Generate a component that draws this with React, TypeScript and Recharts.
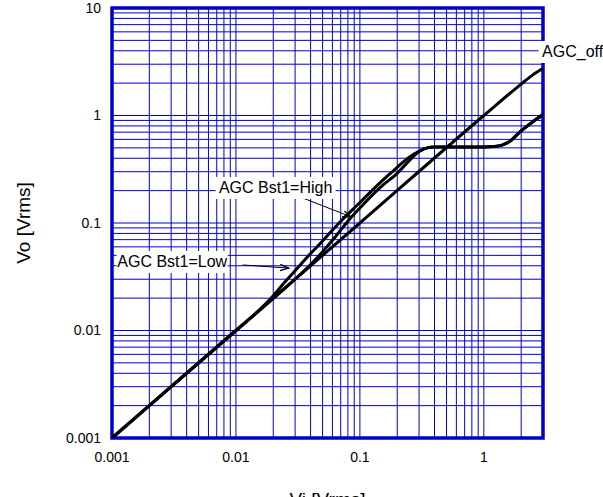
import {
  LineChart,
  Line,
  XAxis,
  YAxis,
  ReferenceLine,
  ReferenceArea,
  ReferenceDot,
} from "recharts";

const BLUE = "#0000cc";
const FONT = "'Liberation Sans', Arial, Helvetica, sans-serif";

// axis ticks
const xTicks = [0.001, 0.01, 0.1, 1];
const yTicks = [0.001, 0.01, 0.1, 1, 10];
const xDecades = [0.001, 0.01, 0.1, 1];
const yDecades = [0.001, 0.01, 0.1, 1];
const mults = [1, 2, 3, 4, 5, 6, 7, 8, 9];

// Vo vs Vi curves
const agcOff = [
  { x: 0.001, y: 0.001 },
  { x: 0.01, y: 0.01 },
  { x: 0.1, y: 0.1 },
  { x: 1, y: 1 },
  { x: 2, y: 1.96 },
  { x: 2.5, y: 2.4 },
  { x: 3, y: 2.75 },
];

const bst1Low = [
  { x: 0.001, y: 0.001 },
  { x: 0.01, y: 0.01 },
  { x: 0.015, y: 0.015 },
  { x: 0.02, y: 0.021 },
  { x: 0.025, y: 0.0285 },
  { x: 0.03, y: 0.036 },
  { x: 0.04, y: 0.052 },
  { x: 0.05, y: 0.068 },
  { x: 0.07, y: 0.104 },
  { x: 0.1, y: 0.155 },
  { x: 0.15, y: 0.245 },
  { x: 0.2, y: 0.33 },
  { x: 0.25, y: 0.41 },
  { x: 0.3, y: 0.465 },
  { x: 0.35, y: 0.5 },
  { x: 0.4, y: 0.508 },
  { x: 0.5, y: 0.51 },
  { x: 0.7, y: 0.51 },
  { x: 1, y: 0.51 },
  { x: 1.2, y: 0.515 },
  { x: 1.4, y: 0.53 },
  { x: 1.6, y: 0.57 },
  { x: 2, y: 0.72 },
  { x: 2.5, y: 0.88 },
  { x: 3, y: 1.02 },
];

const bst1High = [
  { x: 0.001, y: 0.001 },
  { x: 0.01, y: 0.01 },
  { x: 0.03, y: 0.03 },
  { x: 0.04, y: 0.041 },
  { x: 0.05, y: 0.054 },
  { x: 0.06, y: 0.069 },
  { x: 0.07, y: 0.086 },
  { x: 0.08, y: 0.104 },
  { x: 0.1, y: 0.138 },
  { x: 0.15, y: 0.22 },
  { x: 0.2, y: 0.29 },
  { x: 0.25, y: 0.38 },
  { x: 0.3, y: 0.462 },
  { x: 0.35, y: 0.5 },
  { x: 0.4, y: 0.508 },
  { x: 0.5, y: 0.51 },
  { x: 0.7, y: 0.51 },
  { x: 1, y: 0.51 },
  { x: 1.2, y: 0.515 },
  { x: 1.4, y: 0.53 },
  { x: 1.6, y: 0.57 },
  { x: 2, y: 0.72 },
  { x: 2.5, y: 0.88 },
  { x: 3, y: 1.02 },
];

// annotation anchors, in data units
const labels = [
  { text: "AGC_off", x: 5.2, y: 3.9 },
  { text: "AGC Bst1=High", x: 0.0209, y: 0.212 },
  { text: "AGC Bst1=Low", x: 0.00306, y: 0.0434 },
];
const arrows = [
  { from: { x: 0.0345, y: 0.171 }, to: { x: 0.085, y: 0.114 } },
  { from: { x: 0.0113, y: 0.0407 }, to: { x: 0.0266, y: 0.0381 } },
];

const xGrid = xDecades.flatMap((d) => mults.map((m) => m * d)).filter((v) => v <= 3);
const yGrid = yDecades.flatMap((d) => mults.map((m) => m * d));

const LabelBox = (props: any) => {
  const { cx, cy, text } = props;
  const w = text.length * 8.6 + 8;
  return (
    <g>
      <rect x={cx - w / 2} y={cy - 11} width={w} height={22} fill="#fff" />
      <text
        x={cx}
        y={cy}
        textAnchor="middle"
        dominantBaseline="central"
        fontSize={16}
        fontFamily={FONT}
        fill="#000"
      >
        {text}
      </text>
    </g>
  );
};

const Arrow = (props: any) => {
  const { x1, y1, x2, y2 } = props;
  const a = Math.atan2(y2 - y1, x2 - x1);
  const len = 9;
  const spread = 0.35;
  const p1 = [x2 - len * Math.cos(a - spread), y2 - len * Math.sin(a - spread)];
  const p2 = [x2 - len * Math.cos(a + spread), y2 - len * Math.sin(a + spread)];
  return (
    <g>
      <line x1={x1} y1={y1} x2={x2} y2={y2} stroke="#000" strokeWidth={1} />
      <polyline
        points={`${p1[0]},${p1[1]} ${x2},${y2} ${p2[0]},${p2[1]}`}
        fill="none"
        stroke="#000"
        strokeWidth={1.3}
      />
    </g>
  );
};

export default function App() {
  return (
    <div style={{ position: "absolute", left: 0, top: 0, background: "#fff" }}>
      <LineChart
        width={603}
        height={497}
        margin={{ top: 8, right: 60, bottom: 0, left: 12 }}
        style={{ fontFamily: FONT }}
      >
        <XAxis
          type="number"
          dataKey="x"
          scale="log"
          domain={[0.001, 3]}
          allowDataOverflow
          ticks={xTicks}
          height={59}
          axisLine={false}
          tickLine={false}
          tickSize={6}
          tickMargin={8}
          tick={{ fill: "#000", fontSize: 14, fontFamily: FONT }}
          label={{
            content: (p: any) => {
              const vb = p.viewBox;
              return (
                <text
                  x={vb.x + vb.width / 2}
                  y={505.5}
                  textAnchor="middle"
                  fontSize={19}
                  fontFamily={FONT}
                  fill="#000"
                >
                  Vi [Vrms]
                </text>
              );
            },
          }}
        />
        <YAxis
          type="number"
          dataKey="y"
          scale="log"
          domain={[0.001, 10]}
          allowDataOverflow
          ticks={yTicks}
          width={100}
          axisLine={false}
          tickLine={false}
          tickSize={6}
          tickMargin={5}
          tick={{ fill: "#000", fontSize: 14, fontFamily: FONT }}
          label={{
            content: (p: any) => {
              const vb = p.viewBox;
              const cx = 23;
              const cy = vb.y + vb.height / 2;
              return (
                <text
                  x={cx}
                  y={cy}
                  transform={`rotate(-90, ${cx}, ${cy})`}
                  textAnchor="middle"
                  dominantBaseline="central"
                  fontSize={19}
                  fontFamily={FONT}
                  fill="#000"
                >
                  Vo [Vrms]
                </text>
              );
            },
          }}
        />

        {xGrid.map((v) => (
          <ReferenceLine key={`gx-${v}`} x={v} stroke={BLUE} strokeWidth={1} />
        ))}
        {yGrid.map((v) => (
          <ReferenceLine key={`gy-${v}`} y={v} stroke={BLUE} strokeWidth={1} />
        ))}
        <ReferenceArea
          x1={0.001}
          x2={3}
          y1={0.001}
          y2={10}
          fill="none"
          fillOpacity={0}
          stroke={BLUE}
          strokeWidth={3.5}
          ifOverflow="visible"
        />

        <Line data={agcOff} dataKey="y" type="monotone" stroke="#000" strokeWidth={3} dot={false} isAnimationActive={false} />
        <Line data={bst1Low} dataKey="y" type="monotone" stroke="#000" strokeWidth={3} dot={false} isAnimationActive={false} />
        <Line data={bst1High} dataKey="y" type="monotone" stroke="#000" strokeWidth={3} dot={false} isAnimationActive={false} />

        {arrows.map((a, i) => (
          <ReferenceLine
            key={`ar-${i}`}
            segment={[a.from, a.to]}
            ifOverflow="visible"
            shape={(p: any) => <Arrow {...p} />}
          />
        ))}
        {labels.map((l) => (
          <ReferenceDot
            key={l.text}
            x={l.x}
            y={l.y}
            r={1}
            ifOverflow="visible"
            shape={(p: any) => <LabelBox {...p} text={l.text} />}
          />
        ))}
      </LineChart>
    </div>
  );
}
